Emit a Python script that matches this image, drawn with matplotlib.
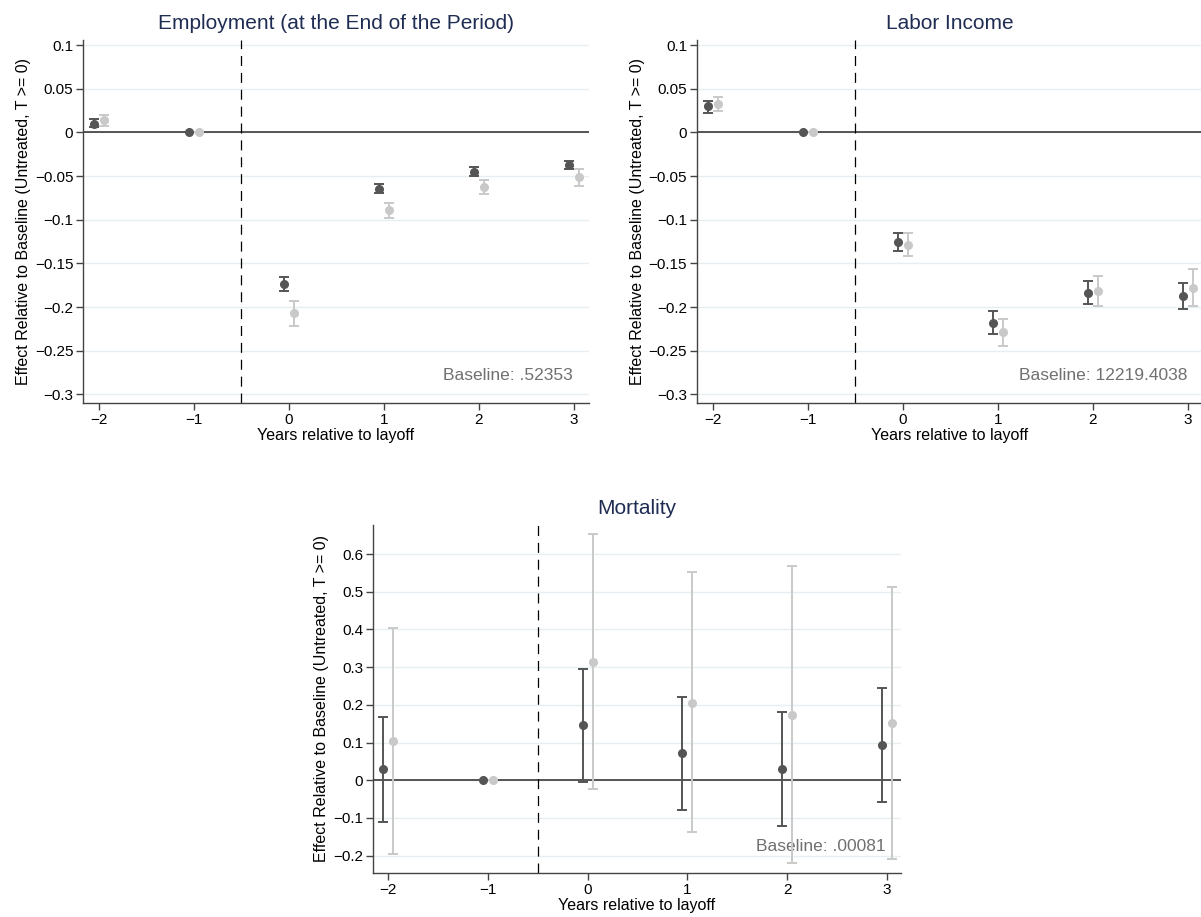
import matplotlib
matplotlib.use("Agg")
import matplotlib.pyplot as plt

plt.rcParams["font.family"] = ["Liberation Sans", "DejaVu Sans"]

DARK = "#555555"
LIGHT = "#c9c9c9"
GRID = "#e6eef1"
TITLE = "#1f2d52"

years = [-2, -1, 0, 1, 2, 3]

# employment at the end of the period
emp_dark = [0.010, 0.0, -0.1735, -0.0645, -0.045, -0.0378]
emp_dark_lo = [0.0065, 0.0, -0.1817, -0.0698, -0.050, -0.0424]
emp_dark_hi = [0.0149, 0.0, -0.1656, -0.0592, -0.040, -0.0328]
emp_light = [0.0141, 0.0, -0.2065, -0.0893, -0.063, -0.0511]
emp_light_lo = [0.008, 0.0, -0.2221, -0.0985, -0.0706, -0.0615]
emp_light_hi = [0.0195, 0.0, -0.1927, -0.0805, -0.0546, -0.0416]

# labor income
inc_dark = [0.0298, 0.0, -0.126, -0.218, -0.1836, -0.187]
inc_dark_lo = [0.0229, 0.0, -0.1355, -0.2313, -0.197, -0.2023]
inc_dark_hi = [0.0366, 0.0, -0.1156, -0.2046, -0.1702, -0.1721]
inc_light = [0.0324, 0.0, -0.129, -0.229, -0.1817, -0.1779]
inc_light_lo = [0.0244, 0.0, -0.1416, -0.2443, -0.1989, -0.1989]
inc_light_hi = [0.0405, 0.0, -0.1156, -0.2141, -0.1649, -0.1569]

# mortality
mort_dark = [0.029, 0.0, 0.146, 0.0717, 0.030, 0.094]
mort_dark_lo = [-0.111, 0.0, -0.004, -0.078, -0.121, -0.058]
mort_dark_hi = [0.168, 0.0, 0.296, 0.221, 0.181, 0.245]
mort_light = [0.1035, 0.0, 0.314, 0.206, 0.1726, 0.152]
mort_light_lo = [-0.196, 0.0, -0.024, -0.138, -0.219, -0.208]
mort_light_hi = [0.403, 0.0, 0.653, 0.551, 0.567, 0.512]

emp_ticks = [0.1, 0.05, 0, -0.05, -0.1, -0.15, -0.2, -0.25, -0.3]
emp_ticklabels = ["0.1", "0.05", "0", "\u22120.05", "\u22120.1", "\u22120.15",
                  "\u22120.2", "\u22120.25", "\u22120.3"]
mort_ticks = [0.6, 0.5, 0.4, 0.3, 0.2, 0.1, 0, -0.1, -0.2]
mort_ticklabels = ["0.6", "0.5", "0.4", "0.3", "0.2", "0.1", "0", "\u22120.1", "\u22120.2"]
year_ticklabels = ["\u22122", "\u22121", "0", "1", "2", "3"]


def series(ax, pts, lo, hi, shift, color):
    xs = [y + shift for y in years]
    err = [[p - l for p, l in zip(pts, lo)], [h - p for p, h in zip(pts, hi)]]
    ax.errorbar(xs, pts, yerr=err, fmt="o", color=color, ms=5.5, elinewidth=1.4,
                capsize=3.5, capthick=1.4, zorder=4)


def panel(ax, title, dark, light, ticks, ticklabels, ylim, xlim, baseline, base_y):
    ax.set_xlim(*xlim)
    ax.set_ylim(*ylim)
    ax.set_yticks(ticks)
    ax.set_yticklabels(ticklabels)
    ax.set_xticks(years)
    ax.set_xticklabels(year_ticklabels)
    for t in ticks:
        ax.axhline(t, color=GRID, lw=1.0, zorder=0)
    ax.axhline(0, color="#3a3a3a", lw=1.2, zorder=1)
    ax.axvline(-0.5, color="black", lw=0.9, ls=(0, (8, 5.5)), zorder=1)
    series(ax, *dark, -0.05, DARK)
    series(ax, *light, 0.05, LIGHT)
    ax.set_title(title, color=TITLE, fontsize=15, pad=8)
    ax.set_ylabel("Effect Relative to Baseline (Untreated, T >= 0)", fontsize=11.5, labelpad=3)
    ax.set_xlabel("Years relative to layoff", fontsize=11.5, labelpad=1)
    ax.text(2.99, base_y, baseline, ha="right", va="center", color="#707070", fontsize=12.5)
    for s in ("top", "right"):
        ax.spines[s].set_visible(False)
    for s in ("left", "bottom"):
        ax.spines[s].set_color("#444444")
        ax.spines[s].set_linewidth(1.0)
    ax.tick_params(colors="#444444", labelcolor="black", labelsize=11, length=5,
                   width=1.0, pad=2)


fig = plt.figure(figsize=(12.01, 9.17), dpi=100)
ax1 = fig.add_axes([0.0691, 0.5605, 0.4213, 0.3959])
ax2 = fig.add_axes([0.5803, 0.5605, 0.4213, 0.3959])
ax3 = fig.add_axes([0.3106, 0.0480, 0.4396, 0.3795])

panel(ax1, "Employment (at the End of the Period)",
      (emp_dark, emp_dark_lo, emp_dark_hi), (emp_light, emp_light_lo, emp_light_hi),
      emp_ticks, emp_ticklabels, (-0.310, 0.106), (-2.168, 3.158),
      "Baseline: .52353", -0.279)
panel(ax2, "Labor Income",
      (inc_dark, inc_dark_lo, inc_dark_hi), (inc_light, inc_light_lo, inc_light_hi),
      emp_ticks, emp_ticklabels, (-0.310, 0.106), (-2.168, 3.158),
      "Baseline: 12219.4038", -0.279)
panel(ax3, "Mortality",
      (mort_dark, mort_dark_lo, mort_dark_hi), (mort_light, mort_light_lo, mort_light_hi),
      mort_ticks, mort_ticklabels, (-0.246, 0.677), (-2.15, 3.14),
      "Baseline: .00081", -0.175)

fig.savefig("out.png", dpi=100)
